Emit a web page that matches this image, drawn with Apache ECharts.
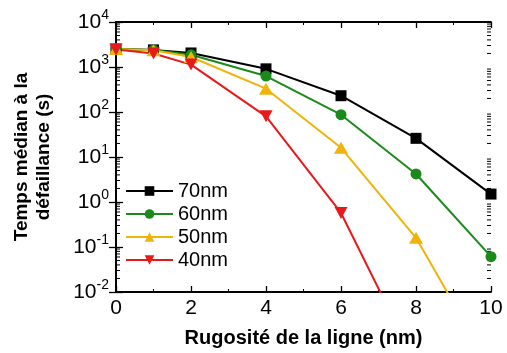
<!DOCTYPE html>
<html><head><meta charset="utf-8">
<script src="https://cdn.jsdelivr.net/npm/echarts@6/dist/echarts.min.js"></script>
<style>html,body{margin:0;padding:0;background:#fff}#c{width:507px;height:353px}</style>
</head><body><div id="c"></div>
<script>
var xVals = [0, 1, 2, 4, 6, 8, 10];
var s70 = [2500, 2400, 2050, 910, 230, 26, 1.5];
var s60 = [2500, 2400, 1870, 630, 87, 4.2, 0.061];
var s50 = [2500, 2350, 1670, 330, 16, 0.16, 0.0002];
var s40 = [2450, 2000, 1130, 80, 0.57, 0.00025];
var names = ['70nm', '60nm', '50nm', '40nm'];
var colors = ['#000000', '#1a8a1a', '#f0b30a', '#e8191b'];
var symbols = ['rect', 'circle', 'triangle', 'path://M0,0 L10,0 L5,9 Z'];
var decades = [0.01, 0.1, 1, 10, 100, 1000];
var minorMult = [2, 3, 4, 5, 6, 7, 8, 9];

function pairs(arr) { return arr.map(function (v, i) { return [xVals[i], v]; }); }
var minorVals = [];
decades.forEach(function (d) { minorMult.forEach(function (m) { minorVals.push([0, d * m]); }); });

var FONT = 'Liberation Sans, Arial, sans-serif';
var chart = echarts.init(document.getElementById('c'), null, {renderer: 'canvas'});
function logLabel(v) {
  var e = Math.round(Math.log10(v));
  return '{b|10}{s|' + e + '}';
}
var axLine = {show: true, lineStyle: {color: '#000', width: 1.8}};
var yBase = {
  type: 'log', min: 0.01, max: 10000, logBase: 10,
  axisLine: axLine,
  axisTick: {show: true, inside: true, length: 7, lineStyle: {color: '#000', width: 1.3}},
  minorTick: {show: false},
  splitLine: {show: false}
};
var series = [s70, s60, s50, s40].map(function (d, i) {
  return {
    name: names[i], type: 'line', data: pairs(d), clip: true, z: 3,
    symbol: symbols[i], symbolSize: i === 3 ? [13, 12] : (i === 2 ? [14, 12] : 11),
    color: colors[i], lineStyle: {width: 2, color: colors[i]},
    itemStyle: {color: colors[i]}
  };
});
series.push({
  type: 'custom', name: 'minor', data: minorVals, silent: true, z: 1,
  renderItem: function (params, api) {
    var v = api.value(1);
    var pl = api.coord([0, v]);
    var pr = api.coord([10, v]);
    var st = {stroke: '#000', lineWidth: 1};
    return {type: 'group', children: [
      {type: 'line', shape: {x1: pl[0], y1: pl[1], x2: pl[0] + 4, y2: pl[1]}, style: st},
      {type: 'line', shape: {x1: pr[0] - 4, y1: pr[1], x2: pr[0], y2: pr[1]}, style: st}
    ]};
  }
});
chart.setOption({
  animation: false,
  backgroundColor: '#fff',
  textStyle: {fontFamily: FONT},
  grid: {left: 116, right: 16, top: 22, bottom: 58},
  legend: {
    orient: 'vertical', left: 120, top: 176, itemWidth: 47, itemHeight: 12, itemGap: 3,
    textStyle: {fontSize: 20, color: '#000', fontFamily: FONT},
    data: names
  },
  xAxis: [{
    type: 'value', min: 0, max: 10, interval: 2,
    axisLine: axLine,
    axisTick: {show: true, inside: true, length: 6, lineStyle: {color: '#000', width: 1.3}},
    minorTick: {show: true, splitNumber: 2, length: 3, lineStyle: {color: '#000'}},
    splitLine: {show: false},
    axisLabel: {fontSize: 21, color: '#000', margin: 6, fontFamily: FONT},
    name: 'Rugosité de la ligne (nm)', nameLocation: 'middle', nameGap: 36,
    nameTextStyle: {fontSize: 20, fontWeight: 'bold', color: '#000', fontFamily: FONT}
  }, {
    type: 'value', min: 0, max: 10, interval: 2, position: 'top',
    axisLine: axLine,
    axisTick: {show: true, inside: true, length: 6, lineStyle: {color: '#000', width: 1.3}},
    minorTick: {show: true, splitNumber: 2, length: 3, lineStyle: {color: '#000'}},
    splitLine: {show: false}, axisLabel: {show: false}
  }],
  yAxis: [Object.assign({}, yBase, {
    axisLabel: {
      formatter: logLabel, color: '#000', margin: 7,
      rich: {
        b: {fontSize: 21, color: '#000', fontFamily: FONT},
        s: {fontSize: 14, color: '#000', fontFamily: FONT, padding: [0, 0, 13, 0]}
      }
    },
    name: 'Temps médian à la\ndéfaillance (s)', nameLocation: 'middle', nameGap: 61,
    nameTextStyle: {fontSize: 19, fontWeight: 'bold', color: '#000', lineHeight: 22, fontFamily: FONT}
  }), Object.assign({}, yBase, {position: 'right', axisLabel: {show: false}})],
  series: series
});
</script></body></html>
